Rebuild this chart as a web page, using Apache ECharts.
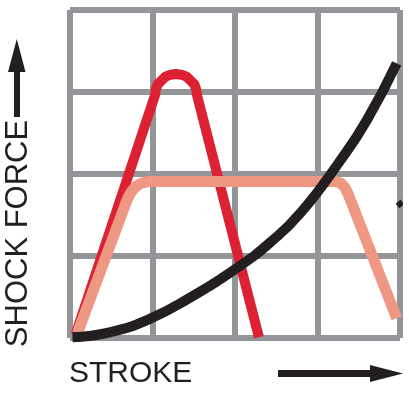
<!DOCTYPE html>
<html>
<head>
<meta charset="utf-8">
<script src="https://cdn.jsdelivr.net/npm/echarts@6/dist/echarts.min.js"></script>
<style>
  html, body { margin: 0; padding: 0; background: #fff; }
  #chart { width: 409px; height: 399px; }
</style>
</head>
<body>
<div id="chart"></div>
<script>
// grid is 4 x 4 cells, values in cell units
var strokeTicks = [0, 1, 2, 3, 4];
var forceTicks = [0, 1, 2, 3, 4];

// red: sharp peak with round top
var redCurve = [
  [0.07, 0.05], [1.03, 2.96], [1.04, 3.03], [1.06, 3.09], [1.11, 3.14],
  [1.16, 3.19], [1.22, 3.21], [1.28, 3.22], [1.35, 3.21], [1.41, 3.19],
  [1.46, 3.14], [1.51, 3.09], [1.53, 3.03], [1.54, 2.96], [2.29, 0.01]
];
// salmon: flat top
var salmonCurve = [
  [0.09, 0.06], [0.69, 1.68], [0.74, 1.78], [0.80, 1.85], [0.87, 1.89],
  [0.96, 1.91], [3.21, 1.91], [3.28, 1.89], [3.33, 1.84], [3.37, 1.76],
  [3.96, 0.24]
];
// black: progressive
var blackCurve = [
  [0.03, 0.01], [0.48, 0.07], [0.96, 0.23], [1.45, 0.49], [2.06, 0.88],
  [2.42, 1.16], [2.79, 1.52], [3.28, 2.17], [3.60, 2.66], [3.96, 3.35]
];
// little black stub at right edge
var blackStub = [[3.97, 1.61], [4.03, 1.66]];

var chart = echarts.init(document.getElementById('chart'));

function axis(ticks) {
  return {
    type: 'value',
    min: ticks[0],
    max: ticks[ticks.length - 1],
    interval: 1,
    axisLine: { show: false },
    axisTick: { show: false },
    axisLabel: { show: false },
    splitLine: { lineStyle: { color: '#939598', width: 6 } }
  };
}

function curve(data, color, width, smooth) {
  return {
    type: 'line',
    data: data,
    symbol: 'none',
    smooth: smooth,
    lineStyle: { color: color, width: width, cap: 'butt', join: 'round' },
    silent: true
  };
}

var stub = curve(blackStub, '#231f20', 6, false);
stub.clip = false;

var option = {
  animation: false,
  grid: { left: 70, top: 10, width: 330, height: 328 },
  xAxis: axis(strokeTicks),
  yAxis: axis(forceTicks),
  series: [
    curve(redCurve, '#dc2133', 10, false),
    curve(salmonCurve, '#ee9783', 11, false),
    curve(blackCurve, '#231f20', 10, true),
    stub
  ],
  graphic: {
    elements: [
      {
        type: 'text',
        x: 69, y: 374,
        style: {
          text: 'STROKE',
          font: '30px "Liberation Sans", Arial, sans-serif',
          fill: '#231f20',
          textAlign: 'left',
          textVerticalAlign: 'middle'
        }
      },
      {
        type: 'text',
        x: 18, y: 233.5,
        rotation: Math.PI / 2,
        style: {
          text: 'SHOCK FORCE',
          font: '31px "Liberation Sans", Arial, sans-serif',
          fill: '#231f20',
          textAlign: 'center',
          textVerticalAlign: 'middle'
        }
      },
      // up arrow
      { type: 'rect', shape: { x: 14, y: 70, width: 6, height: 47 }, style: { fill: '#231f20' } },
      { type: 'polygon', shape: { points: [[16.8, 39], [8, 72], [25.5, 72]] }, style: { fill: '#231f20' } },
      // right arrow
      { type: 'rect', shape: { x: 278, y: 370, width: 94, height: 7 }, style: { fill: '#231f20' } },
      { type: 'polygon', shape: { points: [[403, 373.5], [370, 365], [370, 382]] }, style: { fill: '#231f20' } }
    ]
  }
};

chart.setOption(option);
</script>
</body>
</html>
